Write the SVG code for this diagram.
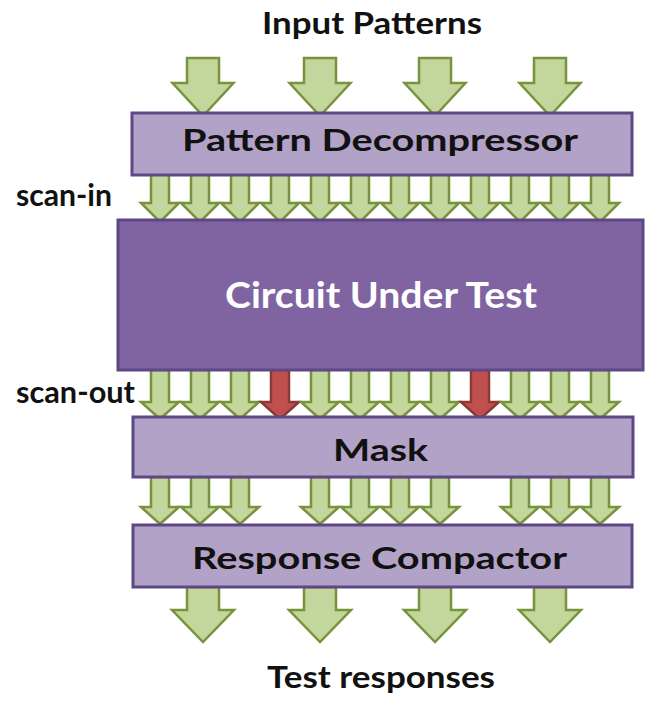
<svg xmlns="http://www.w3.org/2000/svg" width="650" height="701" viewBox="0 0 650 701">
<style>
.lbl{font-family:Lato,"Open Sans","Liberation Sans",sans-serif;font-weight:bold;font-size:30px;fill:#111}
.wt{font-family:Lato,"Open Sans","Liberation Sans",sans-serif;font-weight:bold;font-size:36px;fill:#fff}
.box{fill:#B3A2C7;stroke:#5E4785;stroke-width:3}
.cut{fill:#8064A2;stroke:#5E4785;stroke-width:3}
.g{fill:#C3D69B;stroke:#77933C;stroke-width:2.5;stroke-linejoin:miter}
.r{fill:#C0504D;stroke:#8C3836;stroke-width:2.5}
</style>
<rect width="650" height="701" fill="#fff"/>
<g id="connectors">
<g id="input-arrows">
<path class="g" d="M187,58 h32 v25 h14.5 l-30.5,33 l-30.5,-33 h14.5 z"/>
<path class="g" d="M304,58 h32 v25 h14.5 l-30.5,33 l-30.5,-33 h14.5 z"/>
<path class="g" d="M419,58 h32 v25 h14.5 l-30.5,33 l-30.5,-33 h14.5 z"/>
<path class="g" d="M534,58 h32 v25 h14.5 l-30.5,33 l-30.5,-33 h14.5 z"/>
</g>
<g id="scan-in-arrows">
<path class="g" d="M151,174 h18 v29 h10 l-19,19 l-19,-19 h10 z"/>
<path class="g" d="M191,174 h18 v29 h10 l-19,19 l-19,-19 h10 z"/>
<path class="g" d="M231,174 h18 v29 h10 l-19,19 l-19,-19 h10 z"/>
<path class="g" d="M271,174 h18 v29 h10 l-19,19 l-19,-19 h10 z"/>
<path class="g" d="M311,174 h18 v29 h10 l-19,19 l-19,-19 h10 z"/>
<path class="g" d="M351,174 h18 v29 h10 l-19,19 l-19,-19 h10 z"/>
<path class="g" d="M391,174 h18 v29 h10 l-19,19 l-19,-19 h10 z"/>
<path class="g" d="M431,174 h18 v29 h10 l-19,19 l-19,-19 h10 z"/>
<path class="g" d="M471,174 h18 v29 h10 l-19,19 l-19,-19 h10 z"/>
<path class="g" d="M511,174 h18 v29 h10 l-19,19 l-19,-19 h10 z"/>
<path class="g" d="M551,174 h18 v29 h10 l-19,19 l-19,-19 h10 z"/>
<path class="g" d="M591,174 h18 v29 h10 l-19,19 l-19,-19 h10 z"/>
</g>
<g id="scan-out-arrows">
<path class="g" d="M151,370 h18 v32 h10 l-19,17 l-19,-17 h10 z"/>
<path class="g" d="M191,370 h18 v32 h10 l-19,17 l-19,-17 h10 z"/>
<path class="g" d="M231,370 h18 v32 h10 l-19,17 l-19,-17 h10 z"/>
<path class="r" d="M271,370 h18 v32 h10 l-19,17 l-19,-17 h10 z"/>
<path class="g" d="M311,370 h18 v32 h10 l-19,17 l-19,-17 h10 z"/>
<path class="g" d="M351,370 h18 v32 h10 l-19,17 l-19,-17 h10 z"/>
<path class="g" d="M391,370 h18 v32 h10 l-19,17 l-19,-17 h10 z"/>
<path class="g" d="M431,370 h18 v32 h10 l-19,17 l-19,-17 h10 z"/>
<path class="r" d="M471,370 h18 v32 h10 l-19,17 l-19,-17 h10 z"/>
<path class="g" d="M511,370 h18 v32 h10 l-19,17 l-19,-17 h10 z"/>
<path class="g" d="M551,370 h18 v32 h10 l-19,17 l-19,-17 h10 z"/>
<path class="g" d="M591,370 h18 v32 h10 l-19,17 l-19,-17 h10 z"/>
</g>
<g id="mask-out-arrows">
<path class="g" d="M151,477 h18 v30 h10 l-19,17 l-19,-17 h10 z"/>
<path class="g" d="M191,477 h18 v30 h10 l-19,17 l-19,-17 h10 z"/>
<path class="g" d="M231,477 h18 v30 h10 l-19,17 l-19,-17 h10 z"/>
<path class="g" d="M311,477 h18 v30 h10 l-19,17 l-19,-17 h10 z"/>
<path class="g" d="M351,477 h18 v30 h10 l-19,17 l-19,-17 h10 z"/>
<path class="g" d="M391,477 h18 v30 h10 l-19,17 l-19,-17 h10 z"/>
<path class="g" d="M431,477 h18 v30 h10 l-19,17 l-19,-17 h10 z"/>
<path class="g" d="M511,477 h18 v30 h10 l-19,17 l-19,-17 h10 z"/>
<path class="g" d="M551,477 h18 v30 h10 l-19,17 l-19,-17 h10 z"/>
<path class="g" d="M591,477 h18 v30 h10 l-19,17 l-19,-17 h10 z"/>
</g>
<g id="output-arrows">
<path class="g" d="M187,587 h32 v23 h15 l-31,32 l-31,-32 h15 z"/>
<path class="g" d="M304,587 h32 v23 h15 l-31,32 l-31,-32 h15 z"/>
<path class="g" d="M419,587 h32 v23 h15 l-31,32 l-31,-32 h15 z"/>
<path class="g" d="M534,587 h32 v23 h15 l-31,32 l-31,-32 h15 z"/>
</g>
</g>
<g id="pattern-decompressor">
<rect class="box" x="132" y="113" width="500" height="62"/>
<text class="lbl" x="182" y="151" textLength="396" lengthAdjust="spacingAndGlyphs">Pattern Decompressor</text>
</g>
<g id="circuit-under-test">
<rect class="cut" x="118" y="220" width="525" height="150"/>
<text class="wt" x="225" y="308" textLength="312" lengthAdjust="spacingAndGlyphs">Circuit Under Test</text>
</g>
<g id="mask">
<rect class="box" x="133" y="417" width="500" height="60"/>
<text class="lbl" x="333" y="461" textLength="95" lengthAdjust="spacingAndGlyphs">Mask</text>
</g>
<g id="response-compactor">
<rect class="box" x="133" y="525" width="499" height="62"/>
<text class="lbl" x="192" y="569" textLength="375" lengthAdjust="spacingAndGlyphs">Response Compactor</text>
</g>
<g id="labels">
<text class="lbl" x="262" y="34" textLength="220" lengthAdjust="spacingAndGlyphs">Input Patterns</text>
<text class="lbl" x="16" y="206" textLength="96" lengthAdjust="spacingAndGlyphs">scan-in</text>
<text class="lbl" x="16" y="403" textLength="119" lengthAdjust="spacingAndGlyphs">scan-out</text>
<text class="lbl" x="267" y="688" textLength="228" lengthAdjust="spacingAndGlyphs">Test responses</text>
</g>
</svg>
